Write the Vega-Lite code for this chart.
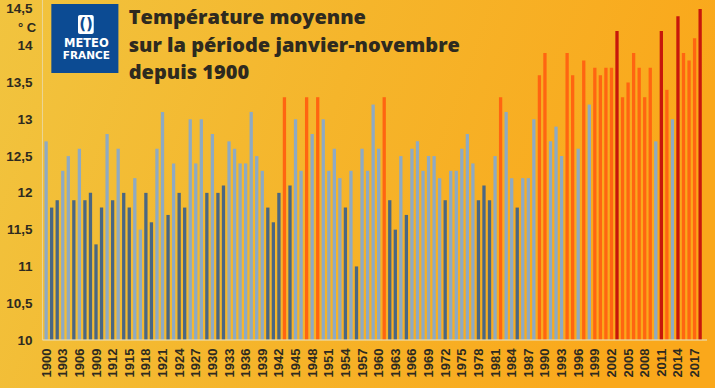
{
  "$schema": "https://vega.github.io/schema/vega-lite/v6.json",
  "width": 715,
  "height": 388,
  "autosize": "none",
  "padding": 0,
  "background": "#f5b62c",
  "config": {
    "view": {
      "stroke": null,
      "fill": {"gradient": "linear", "x1": 0, "y1": 0, "x2": 1, "y2": 0.2, "stops": [{"offset": 0, "color": "#f1c43f"}, {"offset": 0.5, "color": "#f5b52b"}, {"offset": 1, "color": "#faa81b"}]}
    },
    "axis": {"labelOverlap": false, "labelFlush": false, "ticks": false, "domain": false, "grid": false, "title": null},
    "axisX": {"labelAngle": -90, "labelPadding": 8, "labelFont": "Liberation Sans", "labelFontSize": 13, "labelFontWeight": "bold", "labelColor": "#2e2a20", "labelOverlap": false, "labelBound": false},
    "axisY": {"labelPadding": 6, "labelFont": "Liberation Sans", "labelFontSize": 13.5, "labelFontWeight": "bold", "labelColor": "#2e2a20", "labelOverlap": false}
  },
  "datasets": {
    "temp": [
      {"annee": 1900, "t": 12.7, "cat": "normal"},
      {"annee": 1901, "t": 11.8, "cat": "froid"},
      {"annee": 1902, "t": 11.9, "cat": "froid"},
      {"annee": 1903, "t": 12.3, "cat": "normal"},
      {"annee": 1904, "t": 12.5, "cat": "normal"},
      {"annee": 1905, "t": 11.9, "cat": "froid"},
      {"annee": 1906, "t": 12.6, "cat": "normal"},
      {"annee": 1907, "t": 11.9, "cat": "froid"},
      {"annee": 1908, "t": 12.0, "cat": "froid"},
      {"annee": 1909, "t": 11.3, "cat": "froid"},
      {"annee": 1910, "t": 11.8, "cat": "froid"},
      {"annee": 1911, "t": 12.8, "cat": "normal"},
      {"annee": 1912, "t": 11.9, "cat": "froid"},
      {"annee": 1913, "t": 12.6, "cat": "normal"},
      {"annee": 1914, "t": 12.0, "cat": "froid"},
      {"annee": 1915, "t": 11.8, "cat": "froid"},
      {"annee": 1916, "t": 12.2, "cat": "normal"},
      {"annee": 1917, "t": 11.5, "cat": "normal"},
      {"annee": 1918, "t": 12.0, "cat": "froid"},
      {"annee": 1919, "t": 11.6, "cat": "froid"},
      {"annee": 1920, "t": 12.6, "cat": "normal"},
      {"annee": 1921, "t": 13.1, "cat": "normal"},
      {"annee": 1922, "t": 11.7, "cat": "froid"},
      {"annee": 1923, "t": 12.4, "cat": "normal"},
      {"annee": 1924, "t": 12.0, "cat": "froid"},
      {"annee": 1925, "t": 11.8, "cat": "froid"},
      {"annee": 1926, "t": 13.0, "cat": "normal"},
      {"annee": 1927, "t": 12.4, "cat": "normal"},
      {"annee": 1928, "t": 13.0, "cat": "normal"},
      {"annee": 1929, "t": 12.0, "cat": "froid"},
      {"annee": 1930, "t": 12.8, "cat": "normal"},
      {"annee": 1931, "t": 12.0, "cat": "froid"},
      {"annee": 1932, "t": 12.1, "cat": "froid"},
      {"annee": 1933, "t": 12.7, "cat": "normal"},
      {"annee": 1934, "t": 12.6, "cat": "normal"},
      {"annee": 1935, "t": 12.4, "cat": "normal"},
      {"annee": 1936, "t": 12.4, "cat": "normal"},
      {"annee": 1937, "t": 13.1, "cat": "normal"},
      {"annee": 1938, "t": 12.5, "cat": "normal"},
      {"annee": 1939, "t": 12.3, "cat": "normal"},
      {"annee": 1940, "t": 11.8, "cat": "froid"},
      {"annee": 1941, "t": 11.6, "cat": "froid"},
      {"annee": 1942, "t": 12.0, "cat": "froid"},
      {"annee": 1943, "t": 13.3, "cat": "chaud"},
      {"annee": 1944, "t": 12.1, "cat": "froid"},
      {"annee": 1945, "t": 13.0, "cat": "normal"},
      {"annee": 1946, "t": 12.3, "cat": "normal"},
      {"annee": 1947, "t": 13.3, "cat": "chaud"},
      {"annee": 1948, "t": 12.8, "cat": "normal"},
      {"annee": 1949, "t": 13.3, "cat": "chaud"},
      {"annee": 1950, "t": 13.0, "cat": "normal"},
      {"annee": 1951, "t": 12.3, "cat": "normal"},
      {"annee": 1952, "t": 12.6, "cat": "normal"},
      {"annee": 1953, "t": 12.2, "cat": "normal"},
      {"annee": 1954, "t": 11.8, "cat": "froid"},
      {"annee": 1955, "t": 12.3, "cat": "normal"},
      {"annee": 1956, "t": 11.0, "cat": "froid"},
      {"annee": 1957, "t": 12.6, "cat": "normal"},
      {"annee": 1958, "t": 12.3, "cat": "normal"},
      {"annee": 1959, "t": 13.2, "cat": "normal"},
      {"annee": 1960, "t": 12.6, "cat": "normal"},
      {"annee": 1961, "t": 13.3, "cat": "chaud"},
      {"annee": 1962, "t": 11.9, "cat": "froid"},
      {"annee": 1963, "t": 11.5, "cat": "froid"},
      {"annee": 1964, "t": 12.5, "cat": "normal"},
      {"annee": 1965, "t": 11.7, "cat": "froid"},
      {"annee": 1966, "t": 12.6, "cat": "normal"},
      {"annee": 1967, "t": 12.7, "cat": "normal"},
      {"annee": 1968, "t": 12.3, "cat": "normal"},
      {"annee": 1969, "t": 12.5, "cat": "normal"},
      {"annee": 1970, "t": 12.5, "cat": "normal"},
      {"annee": 1971, "t": 12.2, "cat": "normal"},
      {"annee": 1972, "t": 11.9, "cat": "froid"},
      {"annee": 1973, "t": 12.3, "cat": "normal"},
      {"annee": 1974, "t": 12.3, "cat": "normal"},
      {"annee": 1975, "t": 12.6, "cat": "normal"},
      {"annee": 1976, "t": 12.8, "cat": "normal"},
      {"annee": 1977, "t": 12.4, "cat": "normal"},
      {"annee": 1978, "t": 11.9, "cat": "froid"},
      {"annee": 1979, "t": 12.1, "cat": "froid"},
      {"annee": 1980, "t": 11.9, "cat": "froid"},
      {"annee": 1981, "t": 12.5, "cat": "normal"},
      {"annee": 1982, "t": 13.3, "cat": "chaud"},
      {"annee": 1983, "t": 13.1, "cat": "normal"},
      {"annee": 1984, "t": 12.2, "cat": "normal"},
      {"annee": 1985, "t": 11.8, "cat": "froid"},
      {"annee": 1986, "t": 12.2, "cat": "normal"},
      {"annee": 1987, "t": 12.2, "cat": "normal"},
      {"annee": 1988, "t": 13.0, "cat": "normal"},
      {"annee": 1989, "t": 13.6, "cat": "chaud"},
      {"annee": 1990, "t": 13.9, "cat": "chaud"},
      {"annee": 1991, "t": 12.7, "cat": "normal"},
      {"annee": 1992, "t": 12.9, "cat": "normal"},
      {"annee": 1993, "t": 12.5, "cat": "normal"},
      {"annee": 1994, "t": 13.9, "cat": "chaud"},
      {"annee": 1995, "t": 13.6, "cat": "chaud"},
      {"annee": 1996, "t": 12.6, "cat": "normal"},
      {"annee": 1997, "t": 13.8, "cat": "chaud"},
      {"annee": 1998, "t": 13.2, "cat": "normal"},
      {"annee": 1999, "t": 13.7, "cat": "chaud"},
      {"annee": 2000, "t": 13.6, "cat": "chaud"},
      {"annee": 2001, "t": 13.7, "cat": "chaud"},
      {"annee": 2002, "t": 13.7, "cat": "chaud"},
      {"annee": 2003, "t": 14.2, "cat": "record"},
      {"annee": 2004, "t": 13.3, "cat": "chaud"},
      {"annee": 2005, "t": 13.5, "cat": "chaud"},
      {"annee": 2006, "t": 13.9, "cat": "chaud"},
      {"annee": 2007, "t": 13.7, "cat": "chaud"},
      {"annee": 2008, "t": 13.3, "cat": "chaud"},
      {"annee": 2009, "t": 13.7, "cat": "chaud"},
      {"annee": 2010, "t": 12.7, "cat": "normal"},
      {"annee": 2011, "t": 14.2, "cat": "record"},
      {"annee": 2012, "t": 13.4, "cat": "chaud"},
      {"annee": 2013, "t": 13.0, "cat": "normal"},
      {"annee": 2014, "t": 14.4, "cat": "record"},
      {"annee": 2015, "t": 13.9, "cat": "chaud"},
      {"annee": 2016, "t": 13.8, "cat": "chaud"},
      {"annee": 2017, "t": 14.1, "cat": "chaud"},
      {"annee": 2018, "t": 14.5, "cat": "record"}
    ],
    "un": [{}]
  },
  "layer": [
    {
      "data": {"name": "temp"},
      "mark": {"type": "bar", "size": 3.3},
      "encoding": {
        "x": {
          "field": "annee", "type": "quantitative",
          "scale": {"domain": [1892.58, 2019.78], "nice": false, "zero": false},
          "axis": {
            "orient": "bottom", "offset": -48, "tickCount": 60,
            "values": [1900,1903,1906,1909,1912,1915,1918,1921,1924,1927,1930,1933,1936,1939,1942,1945,1948,1951,1954,1957,1960,1963,1966,1969,1972,1975,1978,1981,1984,1987,1990,1993,1996,1999,2002,2005,2008,2011,2014,2017],
            "format": "d", "labelOverlap": false
          }
        },
        "y": {
          "field": "t", "type": "quantitative",
          "scale": {"domain": [9.348, 14.621], "nice": false, "zero": false},
          "axis": {
            "orient": "left", "offset": -38, "tickCount": 30,
            "values": [10, 10.5, 11, 11.5, 12, 12.5, 13, 13.5, 14, 14.5],
            "labelExpr": "replace(format(datum.value, '~g'), '.', ',')"
          }
        },
        "y2": {"datum": 10},
        "color": {
          "field": "cat", "type": "nominal", "legend": null,
          "scale": {"domain": ["froid", "normal", "chaud", "record"], "range": ["#4a6783", "#8eaac3", "#ff6511", "#c7170b"]}
        }
      }
    },
    {
      "data": {"name": "un"},
      "mark": {"type": "rule", "color": "#eadcb0", "strokeWidth": 1, "opacity": 0.8},
      "encoding": {"x": {"datum": 1899.34}, "y": {"datum": 10}, "y2": {"datum": 14.621}}
    },
    {
      "data": {"name": "un"},
      "mark": {"type": "rule", "color": "#eadcb0", "strokeWidth": 1.5, "opacity": 0.8},
      "encoding": {"y": {"datum": 10}, "x": {"datum": 1899.34}, "x2": {"datum": 2019.25}}
    },
    {
      "data": {"name": "un"},
      "mark": {"type": "text", "text": "° C", "align": "right", "baseline": "middle", "font": "Liberation Sans", "fontSize": 13, "fontWeight": "bold", "color": "#2e2a20"},
      "encoding": {"x": {"datum": 1898.2}, "y": {"datum": 14.24}}
    },
    {
      "data": {"name": "un"},
      "mark": {"type": "rect", "color": "#0c4b93"},
      "encoding": {"x": {"datum": 1900.94}, "x2": {"datum": 1913.04}, "y": {"datum": 14.567}, "y2": {"datum": 13.629}}
    },
    {
      "data": {"name": "un"},
      "mark": {"type": "rect", "color": "#ffffff", "cornerRadius": 2},
      "encoding": {"x": {"datum": 1905.75}, "x2": {"datum": 1908.59}, "y": {"datum": 14.417}, "y2": {"datum": 14.159}}
    },
    {
      "data": {"name": "un"},
      "mark": {"type": "text", "text": "()", "align": "center", "baseline": "middle", "font": "DejaVu Sans", "fontSize": 15, "fontWeight": "bold", "color": "#0c4b93"},
      "encoding": {"x": {"datum": 1907.2}, "y": {"datum": 14.29}}
    },
    {
      "data": {"name": "un"},
      "mark": {"type": "text", "text": "METEO", "align": "center", "baseline": "middle", "font": "DejaVu Sans", "fontSize": 11.5, "fontWeight": "bold", "color": "#ffffff"},
      "encoding": {"x": {"datum": 1907.26}, "y": {"datum": 14.023}}
    },
    {
      "data": {"name": "un"},
      "mark": {"type": "text", "text": "FRANCE", "align": "center", "baseline": "middle", "font": "DejaVu Sans", "fontSize": 10.5, "fontWeight": "bold", "color": "#ffffff"},
      "encoding": {"x": {"datum": 1907.26}, "y": {"datum": 13.86}}
    },
    {
      "data": {"name": "un"},
      "mark": {"type": "text", "text": "Température moyenne", "align": "left", "baseline": "middle", "font": "Open Sans", "fontSize": 20, "fontWeight": 800, "color": "#2e2a1f"},
      "encoding": {"x": {"datum": 1914.9}, "y": {"datum": 14.376}}
    },
    {
      "data": {"name": "un"},
      "mark": {"type": "text", "text": "sur la période janvier-novembre", "align": "left", "baseline": "middle", "font": "Open Sans", "fontSize": 20, "fontWeight": 800, "color": "#2e2a1f"},
      "encoding": {"x": {"datum": 1914.9}, "y": {"datum": 13.99}}
    },
    {
      "data": {"name": "un"},
      "mark": {"type": "text", "text": "depuis 1900", "align": "left", "baseline": "middle", "font": "Open Sans", "fontSize": 20, "fontWeight": 800, "color": "#2e2a1f"},
      "encoding": {"x": {"datum": 1914.9}, "y": {"datum": 13.629}}
    }
  ]
}
